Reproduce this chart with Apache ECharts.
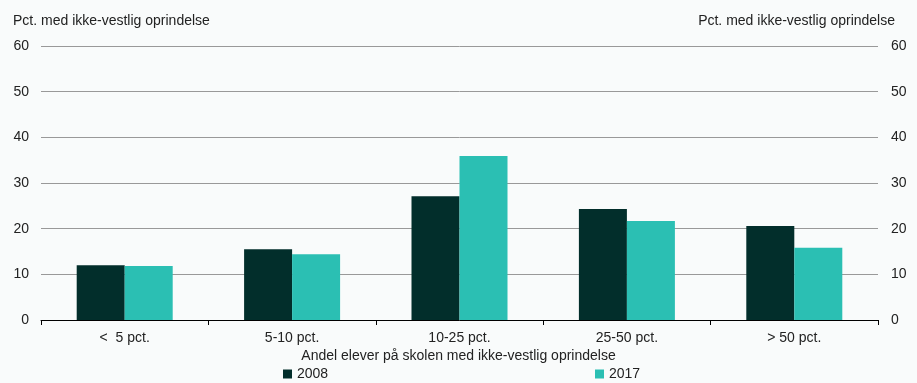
<!DOCTYPE html>
<html>
<head>
<meta charset="utf-8">
<script src="https://cdn.jsdelivr.net/npm/echarts@6/dist/echarts.min.js"></script>
<style>
html,body{margin:0;padding:0;background:#f9fbfb;}
#c{width:917px;height:383px;}
</style>
</head>
<body>
<div id="c"></div>
<script>
const categories = ['<  5 pct.', '5-10 pct.', '10-25 pct.', '25-50 pct.', '> 50 pct.'];
const values2008 = [12.0, 15.5, 27.1, 24.3, 20.6];
const values2017 = [11.8, 14.4, 35.9, 21.7, 15.8];
const seriesNames = ['2008', '2017'];
const yTitle = 'Pct. med ikke-vestlig oprindelse';
const xTitle = 'Andel elever på skolen med ikke-vestlig oprindelse';

const font = 'Liberation Sans, Arial, sans-serif';
const fs = 14;
const chart = echarts.init(document.getElementById('c'), null, {renderer: 'canvas'});
chart.setOption({
  backgroundColor: '#f9fbfb',
  animation: false,
  textStyle: {fontFamily: font},
  title: [
    {text: yTitle, left: 13, top: 14, padding: 0, textStyle: {fontSize: fs, fontWeight: 'normal', color: '#222', fontFamily: font}},
    {text: yTitle, right: 22, top: 14, padding: 0, textStyle: {fontSize: fs, fontWeight: 'normal', color: '#222', fontFamily: font}},
    {text: xTitle, left: 'center', top: 349, padding: 0, textStyle: {fontSize: fs, fontWeight: 'normal', color: '#222', fontFamily: font}}
  ],
  legend: [
    {data: [seriesNames[0]], left: 283, top: 367, padding: 0, itemWidth: 9, itemHeight: 9, itemGap: 4,
     textStyle: {fontSize: fs, color: '#222'}, icon: 'rect'},
    {data: [seriesNames[1]], left: 595, top: 367, padding: 0, itemWidth: 9, itemHeight: 9, itemGap: 4,
     textStyle: {fontSize: fs, color: '#222'}, icon: 'rect'}
  ],
  grid: {left: 41, right: 39, top: 46, bottom: 63, containLabel: false},
  xAxis: {
    type: 'category',
    data: categories,
    axisLine: {lineStyle: {color: '#000', width: 1}},
    axisTick: {show: true, length: 5, lineStyle: {color: '#000'}},
    axisLabel: {fontSize: fs, color: '#222', margin: 11}
  },
  yAxis: [
    {type: 'value', min: 0, max: 60, interval: 10, position: 'left',
     axisLine: {show: false}, axisTick: {show: false},
     axisLabel: {fontSize: fs, color: '#222', margin: 12},
     splitLine: {lineStyle: {color: '#999', width: 1}}},
    {type: 'value', min: 0, max: 60, interval: 10, position: 'right',
     axisLine: {show: false}, axisTick: {show: false},
     axisLabel: {fontSize: fs, color: '#222', margin: 13},
     splitLine: {show: false}}
  ],
  series: [
    {name: seriesNames[0], type: 'bar', data: values2008, barWidth: 48, barGap: '0%',
     itemStyle: {color: '#022e2b'}},
    {name: seriesNames[1], type: 'bar', data: values2017, barWidth: 48, barGap: '0%',
     itemStyle: {color: '#2bbfb3'}}
  ]
});
</script>
</body>
</html>
